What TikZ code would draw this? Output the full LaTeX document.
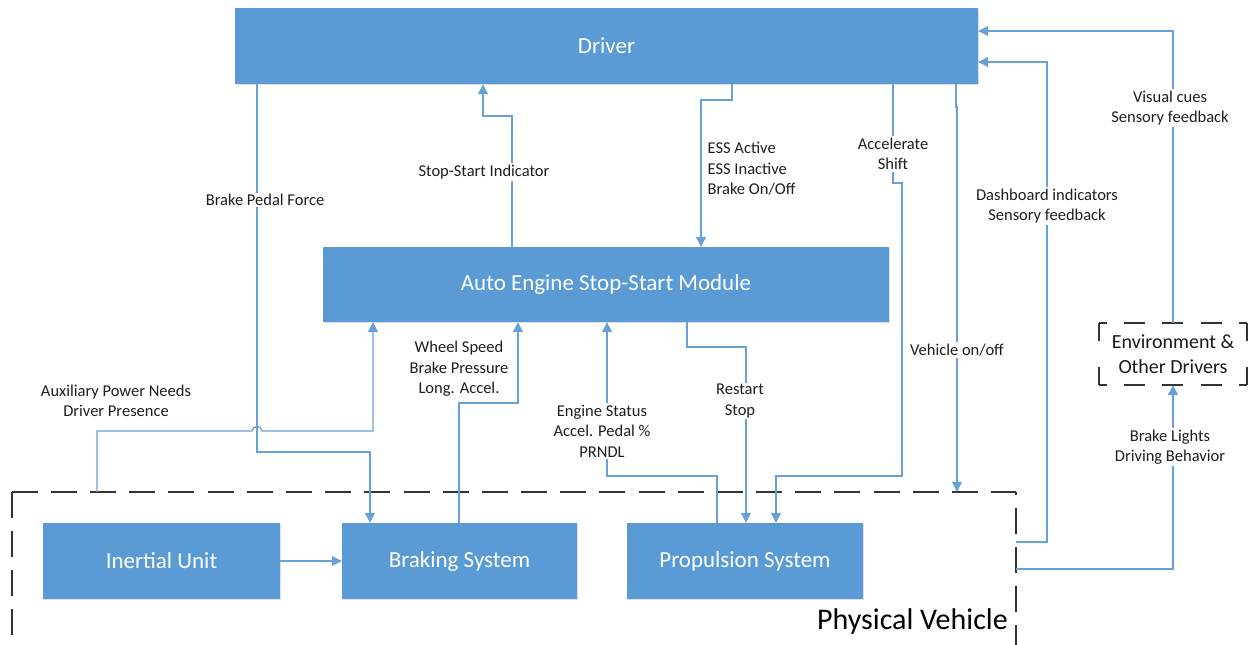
\documentclass[tikz,border=0pt]{standalone}
\usepackage{fontspec}
\setmainfont{Carlito}
\usetikzlibrary{arrows.meta,shadows}

\definecolor{boxblue}{RGB}{91,155,213}
\definecolor{wireblue}{RGB}{104,160,218}
\definecolor{labelgray}{RGB}{30,30,30}

\newcommand\lblfont{\fontsize{16.5}{20.5}\selectfont}
\newcommand\boxfont{\fontsize{23}{28}\selectfont}
\newcommand\envfont{\fontsize{20}{25}\selectfont}
\newcommand\pvfont{\fontsize{30}{35}\selectfont}

\tikzset{
  block/.style={fill=boxblue, draw=none, text=white, font=\boxfont, inner sep=0pt,
    drop shadow={shadow xshift=1pt, shadow yshift=-1pt, opacity=0.25}},
  wire/.style={draw=wireblue, line width=1.3pt},
  feed/.style={wire, -{Triangle[length=10pt,width=10pt]}},
  lbl/.style={font=\lblfont, align=center, fill=white, inner sep=1.5pt, text=labelgray},
  vedge/.style={draw=black!80, line width=2pt, dash pattern=on 26pt off 13.17pt},
  eedgeh/.style={draw=black!80, line width=2pt, dash pattern=on 21pt off 17.25pt, dash phase=13pt},
  eedgev/.style={draw=black!80, line width=2pt, dash pattern=on 18pt off 26pt},
}

\begin{document}
\begin{tikzpicture}[x=1pt,y=-1pt]
\useasboundingbox (0,0) rectangle (1251,645);

% vehicle boundary
\node[minimum width=1004pt, minimum height=153.5pt, inner sep=0pt] (vehicle) at (514,568.75) {};
\draw[vedge] (vehicle.north west) -- (vehicle.south west);
\draw[vedge] (vehicle.north west) -- (vehicle.north east);
\draw[vedge, dash phase=23pt] (vehicle.north east) -- (vehicle.south east);
\draw[vedge] (vehicle.south west) -- (vehicle.south east);
\node[font=\pvfont, anchor=base east, inner sep=0pt] (pvtitle) at (1008,629) {Physical Vehicle};

% blocks
\node[block, minimum width=743pt, minimum height=76pt] (driver) at (606.5,46) {Driver};
\node[block, minimum width=566pt, minimum height=75pt] (aess) at (606,284.5) {Auto Engine Stop-Start Module};
\node[block, minimum width=237pt, minimum height=76pt] (inertial) at (161.5,561) {Inertial Unit};
\node[block, minimum width=235pt, minimum height=76pt] (braking) at (459.5,561) {Braking System};
\node[block, minimum width=236pt, minimum height=76pt] (prop) at (745,561) {Propulsion System};

% environment box with bracket-like dashed corners
\node[font=\envfont, align=center, minimum width=148pt, minimum height=62pt, inner sep=0pt,
      text=black!90] (env) at (1173,354) {Environment \&\\Other Drivers};
\draw[eedgeh] (env.north west) -- (env.north east);
\draw[eedgeh] (env.south west) -- (env.south east);
\draw[eedgev] (env.north west) -- (env.south west);
\draw[eedgev] (env.north east) -- (env.south east);

% driver -> braking
\draw[feed] (driver.south -| 257,0) -- (257,452) -- (370,452) -- (braking.north -| 370,0);
\node[lbl] (lbrake) at (265,200) {Brake Pedal Force};

% module -> driver indicator
\draw[feed] (aess.north -| 512,0) -- (512,116) -- (483,116) -- (driver.south -| 483,0);
\node[lbl] (lind) at (484,172) {Stop-Start Indicator};

% driver -> module
\draw[feed] (driver.south -| 732,0) -- (732,100) -- (701,100) -- (aess.north -| 701,0);
\node[lbl, align=left, anchor=west, fill=none] (less) at (706,169) {ESS Active\\ESS Inactive\\Brake On/Off};

% driver -> propulsion
\draw[feed] (driver.south -| 893,0) -- (893,183) -- (902,183) -- (902,476) -- (776,476) -- (prop.north -| 776,0);
\node[lbl] (lacc) at (893,154) {Accelerate\\Shift};

% driver -> vehicle
\draw[feed] (driver.south -| 956,0) -- (956,107) -- (957,107) -- (vehicle.north -| 957,0);
\node[lbl] (lon) at (957,350) {Vehicle on/off};

% vehicle -> driver
\draw[feed] (vehicle.east |- 0,542) -- (1047,542) -- (1047,62) -- (driver.east |- 0,62);
\node[lbl] (ldash) at (1047,206) {Dashboard indicators\\Sensory feedback};

% environment -> driver
\draw[feed] (env.north) -- (1173,31) -- (driver.east |- 0,31);
\node[lbl] (lvis) at (1170,108) {Visual cues\\Sensory feedback};

% vehicle -> environment
\draw[feed] (vehicle.east |- 0,569) -- (1173,569) -- (env.south);
\node[lbl] (lbl8) at (1170,447) {Brake Lights\\Driving Behavior};

% vehicle -> module (hops over the brake pedal line)
\draw[feed] (vehicle.north -| 97,0) -- (97,431) -- (252,431)
  .. controls (252,425) and (262,425) .. (262,431) -- (373,431) -- (aess.south -| 373,0);
\node[lbl] (laux) at (116,401) {Auxiliary Power Needs\\Driver Presence};

% braking -> module
\draw[feed] (braking.north -| 459,0) -- (459,403) -- (518,403) -- (aess.south -| 518,0);
\node[lbl] (lwheel) at (459,369) {Wheel Speed\\Brake Pressure\\Long. Accel.};

% propulsion -> module
\draw[feed] (prop.north -| 717,0) -- (717,476) -- (607,476) -- (aess.south -| 607,0);
\node[lbl] (leng) at (602,431) {Engine Status\\Accel. Pedal \%\\PRNDL};

% module -> propulsion
\draw[feed] (aess.south -| 687,0) -- (687,347) -- (746,347) -- (prop.north -| 746,0);
\node[lbl] (lrest) at (740,401) {Restart\\Stop};

% inertial -> braking
\draw[feed] (inertial.east) -- (braking.west);
\end{tikzpicture}
\end{document}
